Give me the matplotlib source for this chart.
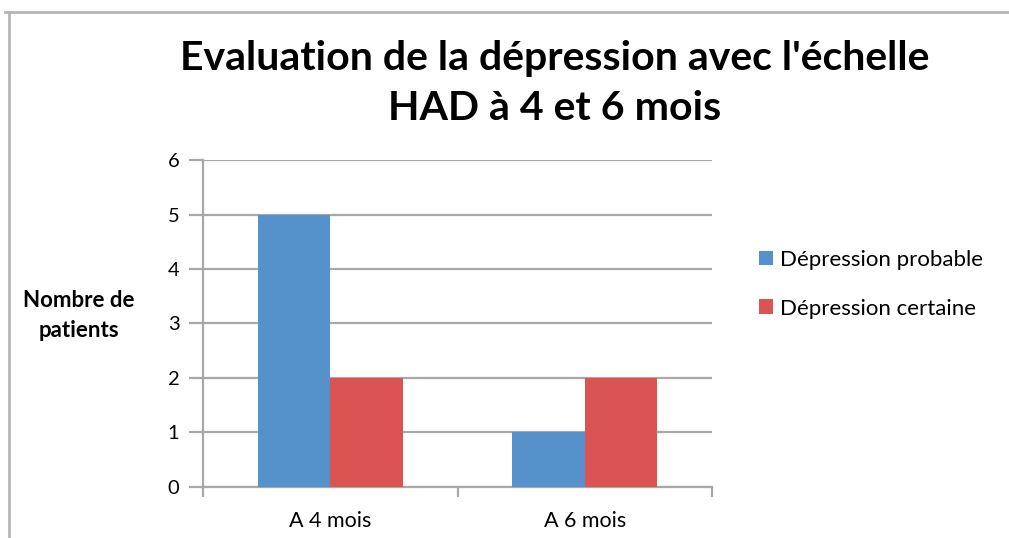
import matplotlib
matplotlib.use("Agg")
import matplotlib.pyplot as plt
from matplotlib.lines import Line2D
import numpy as np

# data
categories = ["A 4 mois", "A 6 mois"]
series_names = ["Dépression probable", "Dépression certaine"]
probable = [5, 1]
certaine = [2, 2]
colors = ["#5591CB", "#D95452"]

plt.rcParams["font.family"] = ["Lato", "DejaVu Sans"]

fig = plt.figure(figsize=(10.09, 5.38), dpi=100)
ax = fig.add_axes([0.2012, 0.0948, 0.5045, 0.6078])

x = np.arange(len(categories))
width = 0.285
ax.bar(x - width / 2, probable, width, color=colors[0], label=series_names[0], zorder=3)
ax.bar(x + width / 2, certaine, width, color=colors[1], label=series_names[1], zorder=3)

ax.set_xlim(-0.5, len(categories) - 0.5)
ax.set_ylim(0, 6)
ax.set_yticks(range(0, 7))
ax.yaxis.grid(True, color="#A8A8A8", linewidth=1.6, zorder=0)
ax.set_axisbelow(True)

ax.set_xticks(x)
ax.set_xticklabels(categories, fontsize=15.5)
ax.set_xticks(np.arange(-0.5, len(categories)), minor=True)
ax.tick_params(axis="x", which="major", length=0, pad=17)
ax.tick_params(axis="x", which="minor", length=7, width=1.6, color="#A8A8A8")
ax.tick_params(axis="y", length=10, width=1.6, color="#A8A8A8", labelsize=14.5, pad=7)

for side in ["top", "right"]:
    ax.spines[side].set_visible(False)
for side in ["left", "bottom"]:
    ax.spines[side].set_color("#A8A8A8")
    ax.spines[side].set_linewidth(1.6)

fig.text(0.078, 0.414, "Nombre de\npatients", ha="center", va="center",
         fontsize=16, fontweight="bold", linespacing=1.5)

fig.text(0.55, 0.845, "Evaluation de la dépression avec l'échelle\nHAD à 4 et 6 mois",
         ha="center", va="center", fontsize=29.5, fontweight="bold", linespacing=1.44)

leg = ax.legend(loc="center left", bbox_to_anchor=(1.052, 0.62), frameon=False,
                fontsize=16, handlelength=0.65, handleheight=0.65,
                handletextpad=0.3, labelspacing=1.3)

# light frame around the chart (top and left edges visible)
fig.add_artist(Line2D([0.005, 1.0], [0.977, 0.977], color="#B5B5B5", linewidth=2))
fig.add_artist(Line2D([0.009, 0.009], [0.0, 0.977], color="#B5B5B5", linewidth=2))

fig.savefig("out.png", dpi=100)
